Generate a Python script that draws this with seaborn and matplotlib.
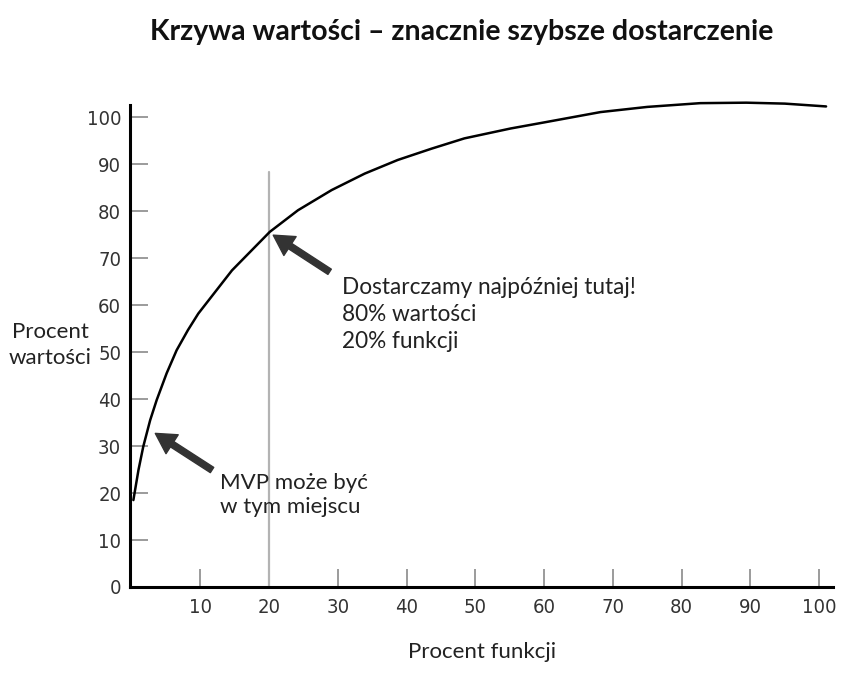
import matplotlib
matplotlib.use("Agg")
import matplotlib.pyplot as plt
import seaborn as sns
import pandas as pd

# curve (percent of features -> percent of value)
features = [0.26, 1.0, 1.7, 2.7, 3.65, 5.1, 6.55, 8.2, 9.7, 14.6, 20.1, 24.2, 29.1,
            33.9, 38.7, 43.6, 48.4, 55.1, 60.0, 68.2, 75.0, 82.7, 89.4, 95.0, 101.0]
value = [18.5, 24.9, 29.9, 35.5, 39.8, 45.5, 50.4, 54.7, 58.2, 67.4, 75.6, 80.2, 84.5,
         88.0, 90.9, 93.3, 95.5, 97.6, 98.9, 101.1, 102.2, 103.0, 103.1, 102.9, 102.3]

x_ticks = [10, 20, 30, 40, 50, 60, 70, 80, 90, 100]
y_ticks = [0, 10, 20, 30, 40, 50, 60, 70, 80, 90, 100]

cut_x = 20
cut_top = 88.4

title = "Krzywa wartości – znacznie szybsze dostarczenie"
note_main = "Dostarczamy najpóźniej tutaj!\n80% wartości\n20% funkcji"
note_mvp = "MVP może być\nw tym miejscu"

df = pd.DataFrame({"features": features, "value": value})

sns.set_theme(style="white")
plt.rcParams["font.family"] = ["Lato", "DejaVu Sans"]

fig = plt.figure(figsize=(8.51, 6.75), dpi=100)
ax = fig.add_axes([0.1522, 0.1304, 0.8266, 0.714])

# grey marker line at 20% features
ax.plot([cut_x, cut_x], [0, cut_top], color="#b3b3b3", lw=1.6, zorder=1)

sns.lineplot(data=df, x="features", y="value", ax=ax, color="black", lw=1.8,
             zorder=3, clip_on=False)

ax.set_xlim(-0.3, 102)
ax.set_ylim(0, 102.6)
ax.set_xticks(x_ticks)
ax.set_yticks(y_ticks)
tick_font = dict(family="DejaVu Sans", fontstretch="condensed", fontsize=14.5,
                 color="#333333")
ax.set_xticklabels([str(t) for t in x_ticks], **tick_font)
ax.set_yticklabels([str(t) for t in y_ticks], **tick_font)
ax.tick_params(axis="both", direction="in", length=13, width=1.2, color="#8a8a8a",
               bottom=True, left=True)
ax.tick_params(axis="x", pad=8)
ax.tick_params(axis="y", pad=6)

for side in ["top", "right"]:
    ax.spines[side].set_visible(False)
for side in ["left", "bottom"]:
    ax.spines[side].set_linewidth(2.2)
    ax.spines[side].set_color("black")
ax.set_xlabel("")
ax.set_ylabel("")

arrow = dict(arrowstyle="simple,head_length=0.8,head_width=0.9,tail_width=0.25",
             mutation_scale=18, color="#333333", shrinkA=0, shrinkB=0)
ax.annotate("", xy=(20.6, 74.9), xytext=(28.8, 67.1), arrowprops=arrow)
ax.annotate("", xy=(3.45, 32.7), xytext=(11.7, 24.9), arrowprops=arrow)

ax.text(30.6, 66.0, note_main, fontsize=16.3, color="#222222", va="top", ha="left",
        linespacing=1.35)
ax.text(12.9, 24.2, note_mvp, fontsize=16, color="#222222", va="top", ha="left",
        linespacing=1.25)

fig.text(0.543, 0.953, title, fontsize=20.5, fontweight="bold", color="#111111",
         ha="center", va="center")
fig.text(0.059, 0.489, "Procent\nwartości", fontsize=16, color="#222222",
         ha="center", va="center", linespacing=1.35)
fig.text(0.566, 0.034, "Procent funkcji", fontsize=16, color="#222222",
         ha="center", va="center")

fig.savefig("out.png", dpi=100)
